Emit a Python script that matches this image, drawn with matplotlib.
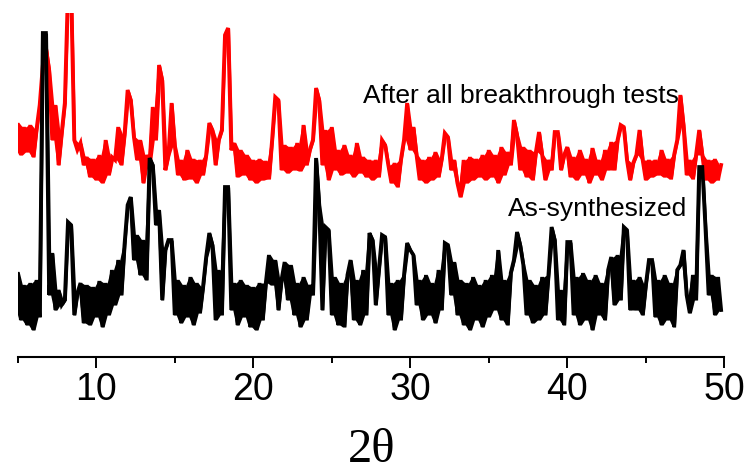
import numpy as np
import matplotlib
matplotlib.use("Agg")
import matplotlib.pyplot as plt
from matplotlib.ticker import MultipleLocator

# 2-theta grid (degrees), 0.2 deg steps
two_theta = np.round(4.8 + 0.2 * np.arange(226), 1)

# intensities (a.u.), stacked pattern after all breakthrough tests
after_tests = [
    205, 232, 200, 228, 203, 230, 198, 226, 250, 290,
    307, 285, 215, 250, 190, 222, 252, 365, 365, 215,
    205, 212, 190, 198, 178, 196, 175, 200, 172, 215,
    180, 198, 195, 228, 190, 220, 265, 255, 218, 195,
    215, 172, 200, 190, 248, 215, 290, 275, 185, 200,
    252, 210, 180, 195, 175, 205, 176, 196, 172, 195,
    180, 200, 232, 225, 190, 215, 225, 320, 327, 205,
    212, 178, 205, 180, 200, 175, 195, 172, 196, 175,
    194, 176, 215, 258, 255, 185, 210, 182, 208, 185,
    212, 184, 230, 190, 205, 215, 267, 255, 190, 225,
    175, 228, 185, 205, 180, 210, 182, 200, 178, 212,
    182, 198, 178, 195, 175, 195, 178, 215, 210, 190,
    172, 192, 168, 195, 215, 252, 205, 228, 200, 175,
    195, 172, 198, 175, 203, 178, 196, 222, 218, 185,
    195, 172, 158, 195, 172, 198, 175, 196, 178, 200,
    175, 205, 178, 200, 172, 208, 180, 203, 190, 235,
    220, 185, 208, 178, 205, 175, 203, 223, 200, 175,
    195, 185, 223, 223, 185, 200, 208, 178, 198, 175,
    205, 180, 196, 172, 207, 180, 195, 175, 205, 185,
    213, 185, 215, 230, 228, 195, 175, 192, 200, 225,
    195, 175, 195, 178, 195, 180, 205, 178, 196, 176,
    200, 215, 260, 230, 180, 195, 176, 200, 225, 200,
    175, 195, 172, 196, 175, 190,
]

# as-synthesized pattern
as_synthesized = [
    45, 83, 35, 70, 30, 72, 25, 75, 38, 322,
    322, 60, 102, 45, 65, 50, 55, 133, 130, 40,
    62, 72, 32, 70, 30, 68, 38, 74, 28, 72,
    40, 85, 50, 95, 60, 110, 150, 158, 95, 120,
    80, 115, 75, 197, 190, 130, 145, 55, 105, 115,
    115, 40, 75, 32, 70, 38, 78, 30, 72, 42,
    68, 98, 122, 110, 35, 85, 40, 168, 168, 45,
    72, 30, 75, 38, 70, 28, 68, 25, 72, 35,
    72, 100, 70, 95, 45, 75, 93, 55, 90, 40,
    72, 28, 78, 35, 70, 60, 197, 150, 45, 128,
    125, 40, 78, 30, 72, 28, 80, 95, 35, 75,
    30, 85, 40, 122, 115, 50, 85, 120, 118, 40,
    72, 25, 75, 35, 80, 112, 105, 100, 50, 75,
    35, 80, 40, 72, 32, 85, 45, 112, 110, 60,
    93, 40, 75, 30, 72, 25, 78, 35, 70, 28,
    75, 38, 80, 45, 105, 35, 75, 30, 82, 95,
    123, 110, 90, 40, 75, 32, 70, 35, 78, 40,
    80, 128, 115, 35, 65, 30, 113, 113, 40, 78,
    30, 82, 35, 75, 25, 80, 40, 72, 35, 85,
    98, 50, 100, 55, 128, 125, 45, 75, 45, 78,
    40, 70, 95, 95, 38, 75, 30, 80, 35, 72,
    28, 85, 90, 105, 60, 42, 80, 55, 188, 188,
    127, 60, 80, 40, 78, 45,
]

labels = ["After all breakthrough tests", "As-synthesized"]


def draw_trace(ax, x, y, color):
    """Thick noisy trace: fill the span swept between neighbouring points, then the line."""
    y = np.asarray(y, dtype=float)
    xm = (x[:-1] + x[1:]) / 2
    ax.fill_between(xm, np.minimum(y[:-1], y[1:]), np.maximum(y[:-1], y[1:]),
                    color=color, lw=0)
    ax.plot(x, y, color=color, lw=2.7, solid_joinstyle="miter")


fig = plt.figure(figsize=(7.49, 4.73), dpi=100)
ax = fig.add_axes([0.0236, 0.2463, 0.9434, 0.7262])

draw_trace(ax, two_theta, after_tests, "#ff0000")
draw_trace(ax, two_theta, as_synthesized, "black")

ax.set_xlim(5, 50)
ax.set_ylim(-1.5, 342)

for side in ["top", "right", "left"]:
    ax.spines[side].set_visible(False)
ax.spines["bottom"].set_linewidth(1.5)
ax.set_yticks([])

ax.xaxis.set_major_locator(MultipleLocator(10))
ax.xaxis.set_minor_locator(MultipleLocator(5))
ax.tick_params(axis="x", which="major", direction="out", length=8, width=1.4,
               pad=3, labelsize=27)
ax.tick_params(axis="x", which="minor", direction="out", length=4.5, width=1.4)
for lab in ax.get_xticklabels():
    lab.set_family("Liberation Sans")

ax.text(27.0, 252, labels[0], fontsize=19, family="Liberation Sans",
        ha="left", va="baseline")
ax.text(36.2, 139, labels[1], fontsize=19, family="Liberation Sans",
        ha="left", va="baseline")

fig.text(372 / 749, 1 - 462 / 473, "2\u03b8", fontsize=35,
         family="Liberation Serif", ha="center", va="baseline")

fig.savefig("out.png", dpi=100)
